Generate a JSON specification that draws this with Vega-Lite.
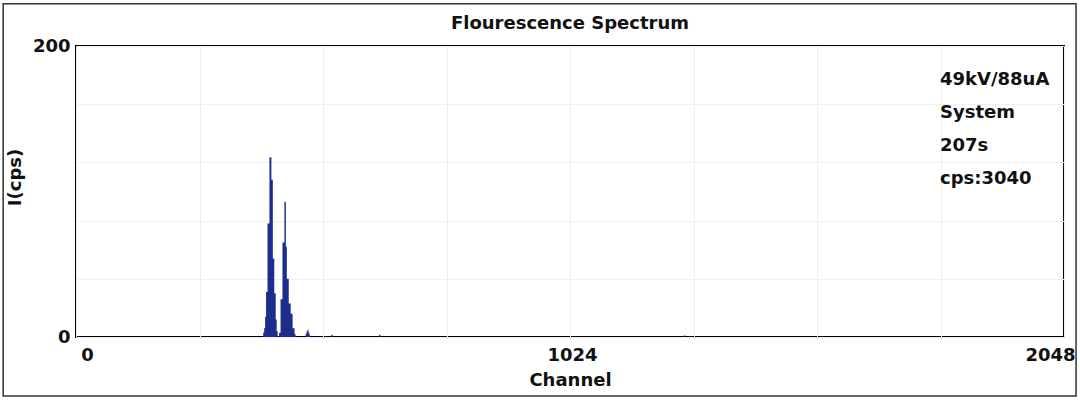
{
  "$schema": "https://vega.github.io/schema/vega-lite/v6.json",
  "width": 988,
  "height": 291,
  "autosize": {"type": "none"},
  "padding": {"left": 76, "top": 46, "right": 16, "bottom": 64},
  "background": "#ffffff",
  "title": {
    "text": "Flourescence Spectrum",
    "font": "DejaVu Sans",
    "fontSize": 18,
    "fontWeight": "bold",
    "color": "#111111",
    "anchor": "middle",
    "frame": "group",
    "baseline": "alphabetic",
    "offset": -44
  },
  "config": {
    "view": {"stroke": "#000000", "strokeWidth": 2},
    "axis": {
      "labelFont": "DejaVu Sans",
      "labelFontSize": 18,
      "labelFontWeight": "bold",
      "labelColor": "#111111",
      "titleFont": "DejaVu Sans",
      "titleFontSize": 18,
      "titleFontWeight": "bold",
      "titleColor": "#111111",
      "ticks": false,
      "tickSize": 0,
      "domain": false,
      "labelOverlap": false
    }
  },
  "datasets": {
    "spectrum": [
      {"channel": 0, "cps": 0},
      {"channel": 386, "cps": 0},
      {"channel": 388, "cps": 3},
      {"channel": 390, "cps": 6},
      {"channel": 392, "cps": 14},
      {"channel": 394, "cps": 31},
      {"channel": 397, "cps": 78},
      {"channel": 401, "cps": 123.5},
      {"channel": 405, "cps": 108},
      {"channel": 408, "cps": 54},
      {"channel": 411, "cps": 30},
      {"channel": 414, "cps": 12},
      {"channel": 416, "cps": 4},
      {"channel": 418, "cps": 0},
      {"channel": 421, "cps": 3},
      {"channel": 424, "cps": 26},
      {"channel": 428, "cps": 65},
      {"channel": 432, "cps": 93},
      {"channel": 435, "cps": 62},
      {"channel": 437, "cps": 40},
      {"channel": 441, "cps": 23},
      {"channel": 445, "cps": 16},
      {"channel": 449, "cps": 6},
      {"channel": 453, "cps": 2},
      {"channel": 455, "cps": 0},
      {"channel": 476, "cps": 2},
      {"channel": 478, "cps": 4},
      {"channel": 480, "cps": 5},
      {"channel": 482, "cps": 3},
      {"channel": 484, "cps": 1},
      {"channel": 486, "cps": 0},
      {"channel": 529, "cps": 1.5},
      {"channel": 532, "cps": 0},
      {"channel": 628, "cps": 1.5},
      {"channel": 631, "cps": 0},
      {"channel": 1260, "cps": 1},
      {"channel": 1263, "cps": 0},
      {"channel": 2048, "cps": 0}
    ],
    "info": [
      {"lines": ["49kV/88uA", "System", "207s", "cps:3040"]}
    ]
  },
  "layer": [
    {
      "data": {"name": "spectrum"},
      "mark": {"type": "area", "interpolate": "step-after", "color": "#1c2d8c"},
      "encoding": {
        "x": {
          "field": "channel",
          "type": "quantitative",
          "scale": {"domain": [0, 2048], "nice": false, "zero": false},
          "axis": {
            "values": [0, 256, 512, 768, 1024, 1280, 1536, 1792, 2048],
            "format": "d",
            "labelExpr": "datum.value % 1024 === 0 ? datum.label : ''",
            "labelFlush": false,
            "labelAlign": "center",
            "labelBaseline": "alphabetic",
            "labelPadding": 23,
            "labelOffset": {
              "condition": [
                {"test": "datum.value === 0", "value": 11},
                {"test": "datum.value === 2048", "value": -14}
              ],
              "value": 2
            },
            "grid": true,
            "gridColor": "#eeeeee",
            "gridWidth": 1,
            "title": "Channel",
            "titleBaseline": "alphabetic",
            "titleY": 48
          }
        },
        "y": {
          "field": "cps",
          "type": "quantitative",
          "scale": {"domain": [0, 200], "nice": false},
          "axis": {
            "values": [0, 20, 40, 60, 80, 100, 120, 140, 160, 180, 200],
            "format": "d",
            "labelExpr": "datum.value % 100 === 0 ? datum.label : ''",
            "labelPadding": 6,
            "labelBaseline": "middle",
            "grid": true,
            "gridColor": {
              "condition": {"test": "datum.value === 100", "value": "#e2e2e2"},
              "value": "#efefef"
            },
            "title": "I(cps)",
            "titleAngle": 270,
            "titleBaseline": "alphabetic",
            "titleAlign": "center",
            "titleX": -56,
            "titleY": 131
          }
        }
      }
    },
    {
      "data": {"name": "info"},
      "mark": {
        "type": "text",
        "align": "left",
        "baseline": "alphabetic",
        "font": "DejaVu Sans",
        "fontSize": 18,
        "fontWeight": "bold",
        "lineHeight": 33,
        "color": "#111111"
      },
      "encoding": {
        "x": {"datum": 1791, "type": "quantitative", "scale": {"domain": [0, 2048], "nice": false, "zero": false}},
        "y": {"datum": 173, "type": "quantitative", "scale": {"domain": [0, 200], "nice": false}},
        "text": {"field": "lines"}
      }
    },
    {
      "data": {"values": [{}]},
      "mark": {"type": "rect", "filled": false, "stroke": "#333333", "strokeWidth": 1.5},
      "encoding": {
        "x": {"datum": -151, "type": "quantitative", "scale": {"domain": [0, 2048], "nice": false, "zero": false}},
        "x2": {"datum": 2073},
        "y": {"datum": 229, "type": "quantitative", "scale": {"domain": [0, 200], "nice": false}},
        "y2": {"datum": -40.5}
      }
    }
  ]
}
